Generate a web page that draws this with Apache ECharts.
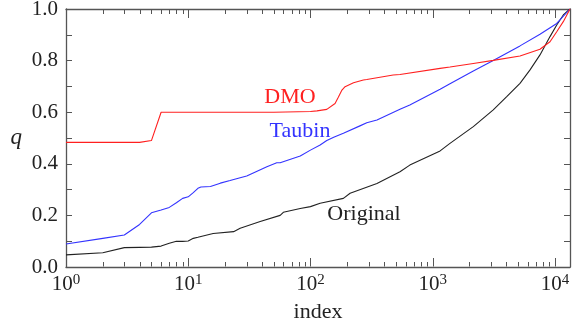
<!DOCTYPE html>
<html>
<head>
<meta charset="utf-8">
<script src="https://cdn.jsdelivr.net/npm/echarts@6/dist/echarts.min.js"></script>
<style>html,body{margin:0;padding:0;background:#fff;}#c{width:576px;height:322px;}</style>
</head>
<body>
<div id="c"></div>
<script>
// ---- data ----
const origIdx = [1,2,3,4,5,6,7,8,9,10,11,12,16,23.5,26.6,38.8,56.5,60,82.5,100,120,186,211,350,540,650,1150,1385,2150,3130,4035,5180,6260,7550,9120,10350,11710,13290];
const origQ   = [0.047,0.055,0.075,0.076,0.077,0.081,0.092,0.0995,0.0995,0.101,0.111,0.115,0.13,0.137,0.15,0.176,0.2,0.212,0.227,0.234,0.247,0.266,0.286,0.324,0.369,0.395,0.45,0.479,0.544,0.609,0.66,0.712,0.764,0.822,0.893,0.938,0.977,1.0];

const taubinIdx = [1,2,3,4,5,6,7,8,9,10,11,12,12.7,15.2,18.3,22,26.6,30.1,44,53,56.5,82.5,100,120,136,155,186,254,289,350,540,650,1150,1385,2150,3130,5180,7550,10350,13290];
const taubinQ   = [0.089,0.111,0.124,0.165,0.21,0.221,0.231,0.249,0.266,0.272,0.288,0.305,0.31,0.312,0.325,0.335,0.346,0.353,0.389,0.404,0.404,0.43,0.453,0.473,0.49,0.503,0.518,0.547,0.559,0.57,0.611,0.628,0.689,0.71,0.76,0.80,0.857,0.902,0.944,1.0];

const dmoIdx = [1,4,5,6,10,50,100,113,136,159,169,181,192,225,271,289,475,540,1150,1385,2150,3130,5180,7550,9120,10350,11710,13290];
const dmoQ   = [0.483,0.483,0.49,0.6,0.6,0.6,0.603,0.605,0.611,0.634,0.658,0.686,0.699,0.714,0.725,0.727,0.744,0.746,0.77,0.775,0.789,0.801,0.818,0.844,0.873,0.912,0.951,1.0];

const xMin = 1, xMax = 13290;
const majorTicks = [1, 10, 100, 1000, 10000];
// minor log ticks: 2..9 x 10^d
const minorTicks = [];
for (let d = 0; d <= 3; d++) for (let k = 2; k <= 9; k++) minorTicks.push(k * Math.pow(10, d));

const pairs = (xs, ys) => xs.map((x, i) => [x, ys[i]]);

const FONT = '"Liberation Serif", "DejaVu Serif", serif';
const AX = '#555';
const TXT = '#222';

const chart = echarts.init(document.getElementById('c'), null, {renderer: 'canvas'});

const xLabelFmt = v => {
  const n = Math.round(Math.log10(v));
  if (Math.abs(v - Math.pow(10, n)) < 1e-6 * v) return '10{sup|' + n + '}';
  return '';
};

const baseX = {
  type: 'log', logBase: 10, min: xMin, max: xMax,
  axisLine: {show: true, onZero: false, lineStyle: {color: AX, width: 1.3}},
  axisTick: {show: false},
  splitLine: {show: false}
};
const baseY = {
  type: 'value', min: 0, max: 1, interval: 0.1,
  axisLine: {show: true, onZero: false, lineStyle: {color: AX, width: 1.3}},
  axisTick: {show: true, inside: true, length: 6, lineStyle: {color: AX, width: 1}},
  splitLine: {show: false}
};

// tick marks on bottom and top frame edges, placed through the log x scale
const tickSeries = (values, len) => ({
  type: 'custom', z: 20, clip: false, silent: true,
  xAxisIndex: 0, yAxisIndex: 0,
  data: values.map(v => [v, 0.5]),
  encode: {x: 0, y: 1},
  renderItem: (params, api) => {
    const v = api.value(0);
    const pb = api.coord([v, 0]);
    const pt = api.coord([v, 1]);
    const x = Math.round(pb[0]) + 0.5;
    return {
      type: 'group',
      children: [
        {type: 'polyline', shape: {points: [[x, pb[1] - 0.5], [x, pb[1] - len]]}, style: {stroke: AX, lineWidth: 1, fill: null}},
        {type: 'polyline', shape: {points: [[x, pt[1] + 0.5], [x, pt[1] + len]]}, style: {stroke: AX, lineWidth: 1, fill: null}}
      ]
    };
  }
});

chart.setOption({
  animation: false,
  backgroundColor: '#fff',
  grid: {left: 66, right: 6, top: 9, bottom: 55, outerBoundsMode: 'none'},
  xAxis: [
    Object.assign({}, baseX, {
      position: 'bottom',
      name: 'index', nameLocation: 'middle', nameGap: 31,
      nameTextStyle: {fontFamily: FONT, fontSize: 22, color: TXT},
      axisLabel: {
        show: true, margin: 6, showMaxLabel: false,
        formatter: xLabelFmt,
        rich: {
          sup: {fontFamily: FONT, fontSize: 15, color: TXT, verticalAlign: 'top', lineHeight: 15}
        },
        fontFamily: FONT, fontSize: 21, color: TXT, lineHeight: 23
      }
    }),
    Object.assign({}, baseX, {position: 'top', axisLabel: {show: false}})
  ],
  yAxis: [
    Object.assign({}, baseY, {
      position: 'left',
      name: 'q', nameLocation: 'middle', nameGap: 44, nameRotate: 0,
      nameTextStyle: {fontFamily: FONT, fontSize: 23, fontStyle: 'italic', color: TXT},
      axisLabel: {
        show: true, margin: 8,
        fontFamily: FONT, fontSize: 21, color: TXT,
        formatter: v => (Math.round(v * 10) % 2 === 0 ? v.toFixed(1) : '')
      }
    }),
    Object.assign({}, baseY, {position: 'right', axisLabel: {show: false}})
  ],
  series: [
    {
      name: 'Original', type: 'line', data: pairs(origIdx, origQ),
      showSymbol: false, symbol: 'none', lineStyle: {color: '#222', width: 1.1}, z: 3
    },
    {
      name: 'Taubin', type: 'line', data: pairs(taubinIdx, taubinQ),
      showSymbol: false, symbol: 'none', lineStyle: {color: '#3333ff', width: 1.1}, z: 3
    },
    {
      name: 'DMO', type: 'line', data: pairs(dmoIdx, dmoQ),
      showSymbol: false, symbol: 'none', lineStyle: {color: '#ff2020', width: 1.1}, z: 4
    },
    tickSeries(majorTicks, 9),
    tickSeries(minorTicks, 5)
  ],
  graphic: [
    {type: 'text', x: 290, y: 97, style: {text: 'DMO', fill: '#ff2020', font: '22px ' + FONT, align: 'center', verticalAlign: 'middle'}},
    {type: 'text', x: 300, y: 131, style: {text: 'Taubin', fill: '#3333ff', font: '22px ' + FONT, align: 'center', verticalAlign: 'middle'}},
    {type: 'text', x: 364, y: 214, style: {text: 'Original', fill: TXT, font: '22px ' + FONT, align: 'center', verticalAlign: 'middle'}}
  ]
});
</script>
</body>
</html>
